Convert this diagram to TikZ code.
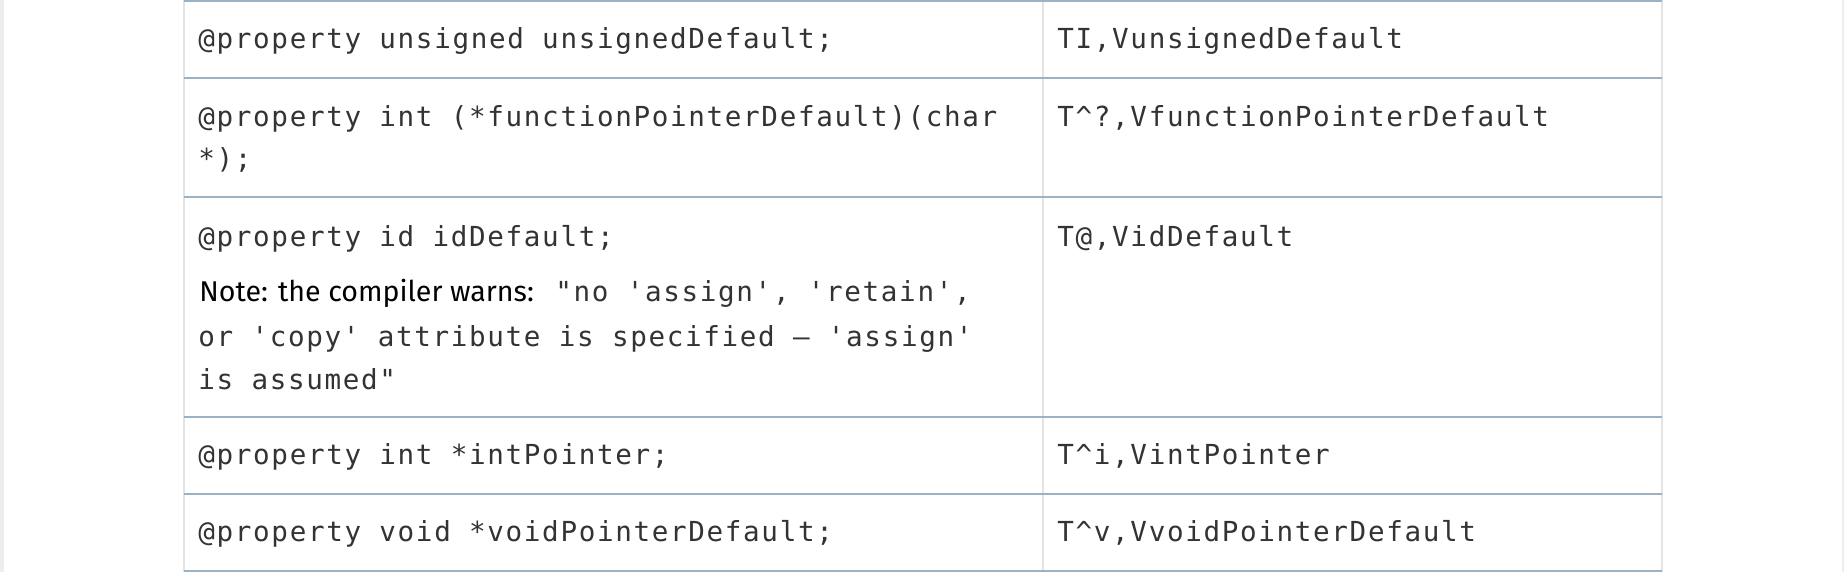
\documentclass[tikz,border=0pt]{standalone}
\usepackage{fontspec}
\setmonofont{DejaVu Sans Mono}[LetterSpace=6]
\newfontfamily\notefont{Fira Sans}
\usepackage{xcolor}
\usepackage{tikz}
\definecolor{rule}{HTML}{9AB2C4}
\definecolor{sep}{HTML}{E4E4E4}
\definecolor{codegray}{HTML}{333333}
\definecolor{page}{HTML}{EDEDED}
\tikzset{
  hline/.style={draw=rule, line width=1pt},
  vline/.style={draw=sep, line width=0.8pt},
  cell/.style={anchor=base west, inner sep=0pt, text=codegray, font=\ttfamily\fontsize{13.8}{16}\selectfont},
  remark/.style={anchor=base west, inner sep=0pt, text=black, font=\notefont\fontsize{14.3}{18}\selectfont}
}

\begin{document}
\begin{tikzpicture}[x=0.5pt,y=-0.5pt]
  \useasboundingbox (0,0) rectangle (1844,572);
  \fill[page] (0,0) rectangle (4,572);
  \fill[page] (1842,0) rectangle (1844,572);
  \foreach \x in {184,1043,1662} \draw[vline] (\x,0) -- (\x,572);
  \foreach \y in {1,78,197,417,494,571} \draw[hline] (184,\y) -- (1662,\y);

  \node[cell] (decl1) at (198,49) {@property unsigned unsignedDefault;};
  \node[cell] (enc1) at (1057,49) {TI,VunsignedDefault};

  \node[cell] (decl2) at (198,127) {@property int (*functionPointerDefault)(char};
  \node[cell] (decl2b) at (198,169) {*);};
  \node[cell] (enc2) at (1057,127) {T\textasciicircum?,VfunctionPointerDefault};

  \node[cell] (decl3) at (198,247) {@property id idDefault;};
  \node[remark] (note) at (199,302) {Note: the compiler warns:};
  \node[cell] (warn1) at (555,302) {"no 'assign', 'retain',};
  \node[cell] (warn2) at (198,347) {or 'copy' attribute is specified – 'assign'};
  \node[cell] (warn3) at (198,390) {is assumed"};
  \node[cell] (enc3) at (1057,247) {T@,VidDefault};

  \node[cell] (decl4) at (198,465) {@property int *intPointer;};
  \node[cell] (enc4) at (1057,465) {T\textasciicircum i,VintPointer};

  \node[cell] (decl5) at (198,541) {@property void *voidPointerDefault;};
  \node[cell] (enc5) at (1057,541) {T\textasciicircum v,VvoidPointerDefault};
\end{tikzpicture}
\end{document}
